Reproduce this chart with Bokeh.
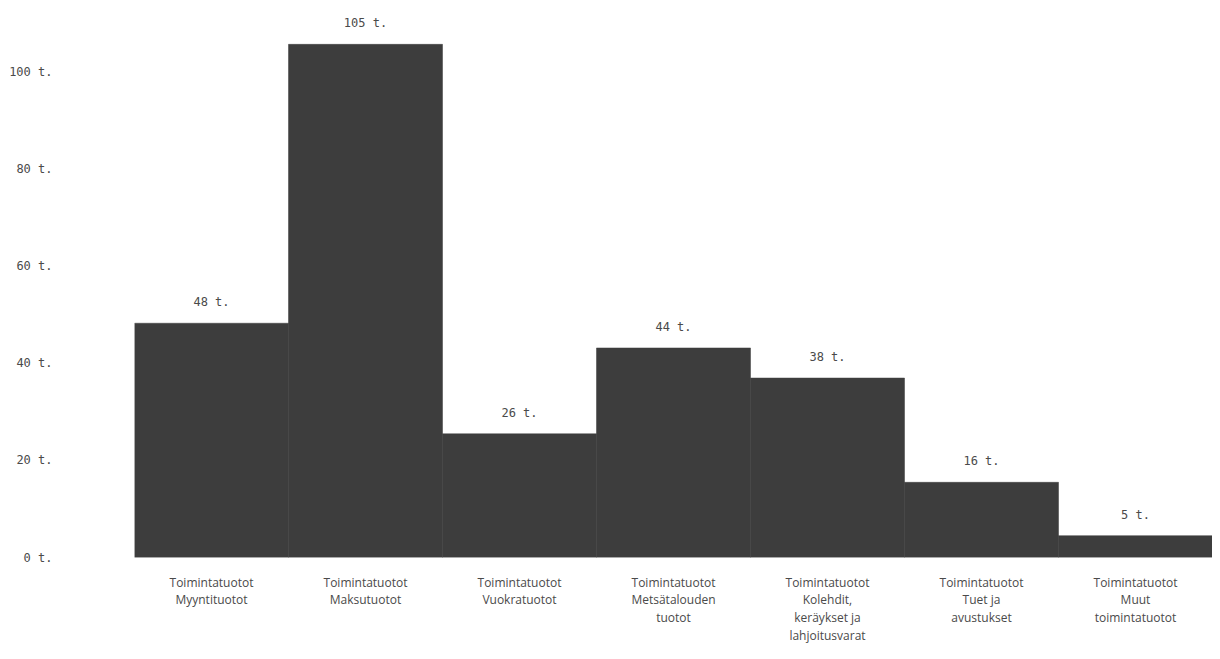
from bokeh.plotting import figure
from bokeh.models import ColumnDataSource, FactorRange, Range1d, FixedTicker
from bokeh.core.properties import value
from bokeh.embed import file_html
from bokeh.resources import INLINE

categories = [
    "Toimintatuotot\nMyyntituotot",
    "Toimintatuotot\nMaksutuotot",
    "Toimintatuotot\nVuokratuotot",
    "Toimintatuotot\nMetsätalouden\ntuotot",
    "Toimintatuotot\nKolehdit,\nkeräykset ja\nlahjoitusvarat",
    "Toimintatuotot\nTuet ja\navustukset",
    "Toimintatuotot\nMuut\ntoimintatuotot",
]
values = [48.3, 105.8, 25.5, 43.2, 37.0, 15.5, 4.5]
bar_labels = ["48 t.", "105 t.", "26 t.", "44 t.", "38 t.", "16 t.", "5 t."]
y_ticks = [0, 20, 40, 60, 80, 100]
y_tick_labels = {t: f"{t} t." for t in y_ticks}

src = ColumnDataSource(dict(cat=categories, val=values, lab=bar_labels))

p = figure(
    x_range=FactorRange(*categories, range_padding=0),
    y_range=Range1d(0, 111.75),
    width=1212, height=647,
    output_backend="svg", toolbar_location=None,
    min_border_left=134, min_border_right=0,
    min_border_top=15, min_border_bottom=80,
)
p.vbar(x="cat", top="val", width=1.0, source=src,
       fill_color="#3d3d3d", line_color="#3d3d3d", line_width=0.5)
p.text(x="cat", y="val", text="lab", source=src,
       text_align="center", text_baseline="bottom", y_offset=-14,
       text_font=value("DejaVu Sans Mono"), text_font_size="12px", text_color="#4a4a4a")

p.outline_line_color = None
p.xgrid.grid_line_color = None
p.ygrid.grid_line_color = None
for ax in (p.xaxis, p.yaxis):
    ax.axis_line_color = None
    ax.major_tick_line_color = None
    ax.minor_tick_line_color = None
    ax.major_label_text_font_size = "12px"
    ax.major_label_text_color = "#4a4a4a"
p.xaxis.major_label_text_font = "Open Sans"
p.xaxis.major_label_text_line_height = 1.05
p.yaxis.major_label_text_font = "DejaVu Sans Mono"

p.yaxis.ticker = FixedTicker(ticks=y_ticks)
p.yaxis.major_label_overrides = y_tick_labels
p.yaxis.major_label_standoff = 76
p.xaxis.major_label_standoff = 10

open("out.html", "w").write(file_html(p, INLINE))
